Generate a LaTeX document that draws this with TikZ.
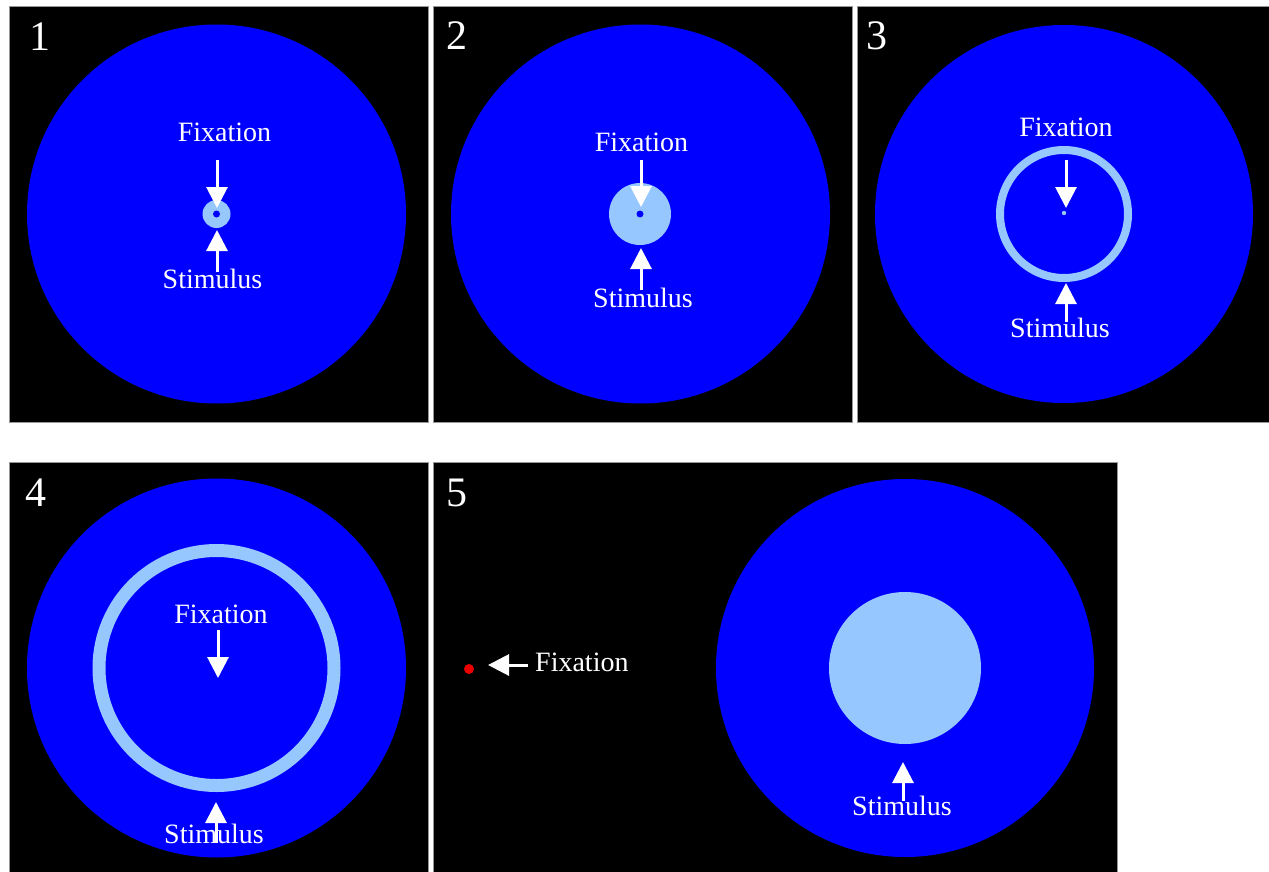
\documentclass[tikz,border=0pt]{standalone}
\usepackage{fontspec}
\setmainfont{Liberation Serif}
\usetikzlibrary{arrows.meta}
\definecolor{bgblue}{RGB}{0,0,255}
\definecolor{lightblue}{RGB}{150,200,255}
\definecolor{framegray}{RGB}{150,150,150}
\definecolor{fixred}{RGB}{235,0,0}
\tikzset{
  panel/.style={fill=black,draw=framegray,line width=1pt},
  field/.style={circle,fill=bgblue,inner sep=0pt,minimum size=#1},
  lbl/.style={text=white,inner sep=0pt,anchor=base,font=\fontsize{28}{30}\selectfont},
  num/.style={text=white,inner sep=0pt,anchor=base west,font=\fontsize{42}{44}\selectfont},
  pointer/.style={draw=white,line width=3pt,-{Triangle[width=21pt,length=21pt]},shorten >=0pt}
}
\begin{document}
\begin{tikzpicture}[x=1pt,y=-1pt]
\useasboundingbox (0,0) rectangle (1269,872);
\fill[white] (0,0) rectangle (1269,872);
% panels
\draw[panel] (9,7) rectangle (428,422);
\draw[panel] (433,7) rectangle (852,422);
\draw[panel] (857,7) rectangle (1270,422);
\draw[panel] (9,462) rectangle (428,873);
\draw[panel] (433,462) rectangle (1117,873);
% panel numbers
\node[num] (n1) at (29,51) {1};
\node[num] (n2) at (446,50) {2};
\node[num] (n3) at (866,50) {3};
\node[num] (n4) at (25,506) {4};
\node[num] (n5) at (446,506) {5};
% panel 1
\node[field=379pt] (c1) at (216.5,214) {};
\fill[lightblue] (216.5,214) circle (14);
\fill[bgblue] (216.5,214) circle (3.5);
\node[lbl] (f1) at (224.5,142) {Fixation};
\node[lbl] (s1) at (212.5,288) {Stimulus};
\coordinate (f1a) at (217,160);
\coordinate (f1b) at (217,208);
\coordinate (s1a) at (217,272);
\coordinate (s1b) at (217,230);
\draw[pointer] (f1a) -- (f1b);
\draw[pointer] (s1a) -- (s1b);
% panel 2
\node[field=379pt] (c2) at (640.5,214) {};
\fill[lightblue] (640,214) circle (31);
\fill[bgblue] (640,214) circle (3.5);
\node[lbl] (f2) at (641.5,151) {Fixation};
\node[lbl] (s2) at (643,307) {Stimulus};
\coordinate (f2a) at (641,160);
\coordinate (f2b) at (641,207);
\coordinate (s2a) at (641,290);
\coordinate (s2b) at (641,248);
\draw[pointer] (f2a) -- (f2b);
\draw[pointer] (s2a) -- (s2b);
% panel 3
\node[field=378pt] (c3) at (1064,214) {};
\draw[lightblue,line width=8pt] (1064,214) circle (64);
\fill[lightblue] (1064,213) circle (2.2);
\node[lbl] (f3) at (1066,137) {Fixation};
\node[lbl] (s3) at (1060,337) {Stimulus};
\coordinate (f3a) at (1066,160);
\coordinate (f3b) at (1066,208);
\coordinate (s3a) at (1066,322);
\coordinate (s3b) at (1066,283);
\draw[pointer] (f3a) -- (f3b);
\draw[pointer] (s3a) -- (s3b);
% panel 4
\node[field=379pt] (c4) at (216.5,668) {};
\draw[lightblue,line width=13pt] (216.5,668) circle (117.5);
\node[lbl] (f4) at (221,623) {Fixation};
\coordinate (f4a) at (218,630);
\coordinate (f4b) at (218,678);
\draw[pointer] (f4a) -- (f4b);
\coordinate (s4a) at (216,843);
\coordinate (s4b) at (216,802);
\draw[pointer] (s4a) -- (s4b);
\node[lbl] (s4) at (214,843) {Stimulus};
% panel 5
\node[field=378pt] (c5) at (905,668) {};
\fill[lightblue] (905,668) circle (76);
\node[lbl] (s5) at (902,815) {Stimulus};
\coordinate (s5a) at (903,801);
\coordinate (s5b) at (903,762);
\draw[pointer] (s5a) -- (s5b);
\node[circle,fill=fixred,inner sep=0pt,minimum size=10pt] (dot5) at (469,669) {};
\node[lbl,anchor=base west] (f5) at (535,671) {Fixation};
\coordinate (f5a) at (528,665);
\coordinate (f5b) at (488,665);
\draw[pointer] (f5a) -- (f5b);
\end{tikzpicture}
\end{document}
